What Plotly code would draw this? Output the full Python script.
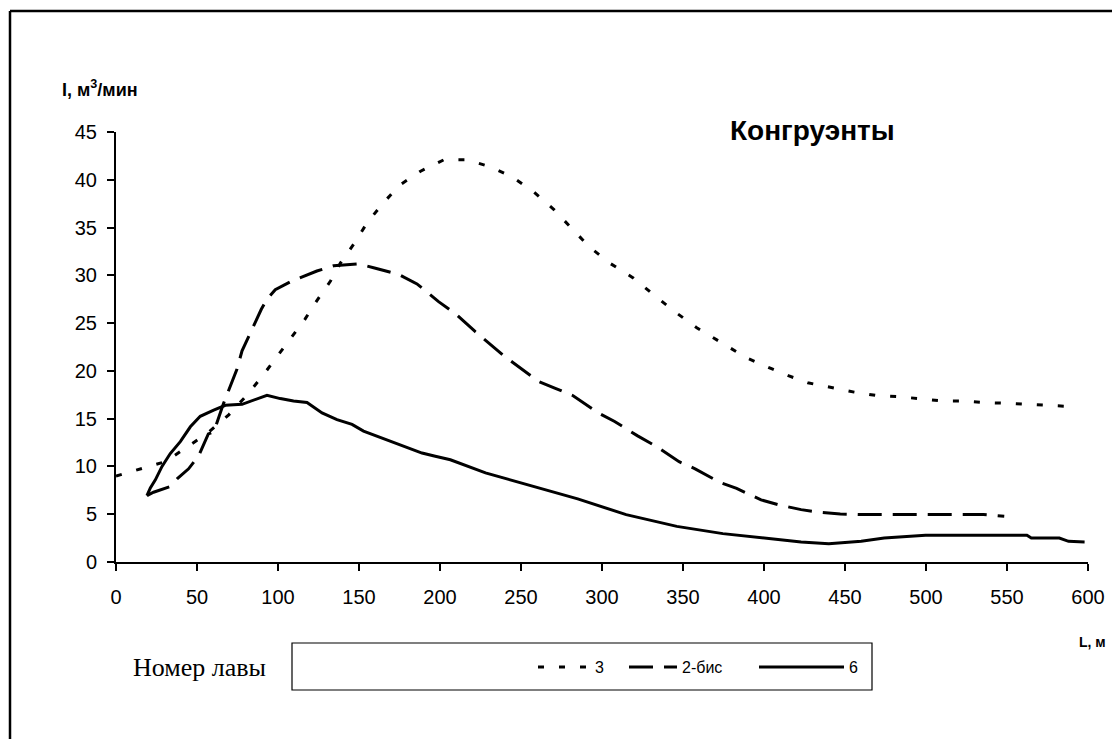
import plotly.graph_objects as go

# ---- data ----
x_3 = [0, 17, 30.5, 44, 56.6, 69.6, 81, 90.6, 98.9, 108, 116.6, 123.8, 132.4, 138.6, 147.3, 155,
       164.4, 174.7, 188, 202.5, 216.3, 230.3, 244.1, 258.1, 270.5, 280.8, 292.7, 305.5, 319.5,
       332.7, 345.7, 359, 375, 390, 405, 415, 427, 441.5, 455.7, 469, 482.7, 497, 510.6, 524,
       538, 552.4, 566.6, 579.4, 592]
y_3 = [9.0, 9.8, 10.5, 12.05, 13.5, 15.4, 17.5, 19.5, 21.4, 23.5, 25.4, 27.3, 29.4, 31.3, 33.4, 35.5,
       37.45, 39.4, 40.9, 42.1, 42.1, 41.4, 40.35, 38.7, 36.85, 35.0, 32.9, 31.2, 29.7,
       27.85, 26.1, 24.45, 22.8, 21.3, 20.2, 19.5, 18.76, 18.24, 17.78, 17.43, 17.3, 17.08, 16.84, 16.84,
       16.67, 16.6, 16.5, 16.4, 16.25]

x_2bis = [19.1, 23.2, 33.5, 37.7, 44.8, 51, 57, 60.3, 66.4, 69.5, 74.7, 77.8, 85, 89.7, 93.2,
          98.3, 108.6, 124, 134.3, 149.8, 159, 174.4, 185.8, 199.1, 209.4, 221.8, 240, 260.8, 270.8,
          282.2, 297.8, 307.8, 322, 333.4, 347.6, 357.5, 373.2, 383.1, 398.2, 408.7, 422.9, 432.9,
          447.1, 460, 524, 535.5, 548.3]
y_2bis = [6.95, 7.3, 7.9, 8.7, 9.75, 11.1, 13.4, 13.6, 16.6, 17.9, 20.2, 22.1, 24.7, 26.45, 27.5,
          28.5, 29.4, 30.45, 31.0, 31.2, 30.8, 30.1, 29.1, 27.25, 26.0, 24.1, 21.5, 18.9, 18.2,
          17.4, 15.6, 14.7, 13.2, 12.1, 10.5, 9.75, 8.3, 7.7, 6.5, 6.0, 5.48, 5.24,
          5.03, 4.96, 4.96, 4.96, 4.78]

x_6 = [19.1, 21.2, 24.3, 28.4, 33.5, 39.7, 45.9, 52, 60.3, 67.5, 77.8, 85, 93.2, 101.4, 109.6, 117.9,
       127.2, 136.4, 145.7, 152.8, 162.1, 170.4, 179.6, 188.9, 197.1, 206.4, 228.1, 258, 285, 314.9,
       346.2, 374.6, 400.2, 422.9, 440, 460, 474.2, 499.7, 562.3, 565, 582.3, 588, 597.9]
y_6 = [6.95, 7.75, 8.6, 10.0, 11.35, 12.6, 14.15, 15.25, 15.9, 16.4, 16.5, 16.95, 17.45, 17.1, 16.85, 16.7,
       15.6, 14.9, 14.4, 13.7, 13.1, 12.55, 11.95, 11.4, 11.07, 10.7, 9.33, 7.93, 6.6, 4.96,
       3.73, 2.97, 2.5, 2.1, 1.92, 2.16, 2.5, 2.79, 2.79, 2.5, 2.5, 2.16, 2.1]

series_names = ["3", "2-бис", "6"]
x_ticks = list(range(0, 601, 50))
y_ticks = list(range(0, 46, 5))

# ---- layout geometry (page has an 8px body margin, so everything is offset) ----
OFF = 8
W, H = 1120 - OFF, 739 - OFF
PLOT_L, PLOT_R, PLOT_T, PLOT_B = 116, 1088, 132, 562          # in reference page pixels
L_M, R_M = PLOT_L - OFF, W - (PLOT_R - OFF)
T_M, B_M = PLOT_T - OFF, H - (PLOT_B - OFF)
PW, PH = PLOT_R - PLOT_L, PLOT_B - PLOT_T


def px(x):
    return (x - PLOT_L) / PW


def py(y):
    return (PLOT_B - y) / PH


fig = go.Figure()
fig.add_trace(go.Scatter(x=x_3, y=y_3, mode="lines", name=series_names[0], legend="legend",
                         line=dict(color="black", width=3, dash="6px,15px")))
fig.add_trace(go.Scatter(x=x_2bis, y=y_2bis, mode="lines", name=series_names[1], legend="legend2",
                         line=dict(color="black", width=3, dash="24px,11px")))
fig.add_trace(go.Scatter(x=x_6, y=y_6, mode="lines", name=series_names[2], legend="legend3",
                         line=dict(color="black", width=3)))

axis_font = dict(family="Liberation Sans, Arial", size=20, color="black")
legend_font = dict(family="Liberation Sans, Arial", size=16, color="black")


def legend_at(text_left, item_w):
    return dict(orientation="h", x=px(text_left - item_w - 11), xanchor="left",
                y=py(667), yanchor="middle", font=legend_font,
                bgcolor="rgba(0,0,0,0)", borderwidth=0, itemwidth=item_w)


fig.update_layout(
    width=W, height=H,
    margin=dict(l=L_M, r=R_M, t=T_M, b=B_M),
    paper_bgcolor="white", plot_bgcolor="white",
    showlegend=True,
    legend=legend_at(596, 52),
    legend2=legend_at(683, 48),
    legend3=legend_at(850, 85),
    xaxis=dict(range=[0, 600], tickvals=x_ticks, ticktext=[str(v) for v in x_ticks],
               showgrid=False, zeroline=False, showline=True, linecolor="black", linewidth=2,
               ticks="outside", ticklen=7, tickwidth=2, tickcolor="black",
               tickfont=axis_font, ticklabelstandoff=9),
    yaxis=dict(range=[0, 45], tickvals=y_ticks, ticktext=[str(v) for v in y_ticks],
               showgrid=False, zeroline=False, showline=True, linecolor="black", linewidth=2,
               ticks="outside", ticklen=7, tickwidth=2, tickcolor="black",
               tickfont=axis_font, ticklabelstandoff=6),
)

annotations = [
    dict(text="<b>Конгруэнты</b>", x=px(812), y=py(131), xanchor="center", yanchor="middle",
         font=dict(family="Liberation Sans, Arial", size=28, color="black")),
    dict(text="<b>I, м<sup>3</sup>/мин</b>", x=px(60), y=py(88), xanchor="left", yanchor="middle",
         font=dict(family="Liberation Sans, Arial", size=18, color="black")),
    dict(text="<b>L, м</b>", x=px(1108), y=py(642), xanchor="right", yanchor="middle",
         font=dict(family="Liberation Sans, Arial", size=14, color="black")),
    dict(text="Номер лавы", x=px(131), y=py(667), xanchor="left", yanchor="middle",
         font=dict(family="Liberation Serif, Times New Roman", size=26, color="black")),
]
for a in annotations:
    a.update(xref="paper", yref="paper", showarrow=False)
fig.update_layout(annotations=annotations)

shapes = [
    # legend box
    dict(type="rect", x0=px(292), x1=px(872), y0=py(690), y1=py(643),
         line=dict(color="black", width=1.2)),
    # outer frame (top and left edges visible)
    dict(type="line", x0=px(10), x1=px(1130), y0=py(11), y1=py(11),
         line=dict(color="black", width=2.5)),
    dict(type="line", x0=px(10), x1=px(10), y0=py(11), y1=py(760),
         line=dict(color="black", width=2.5)),
]
for s in shapes:
    s.update(xref="paper", yref="paper", layer="above")
fig.update_layout(shapes=shapes)

fig.write_html("out.html")
